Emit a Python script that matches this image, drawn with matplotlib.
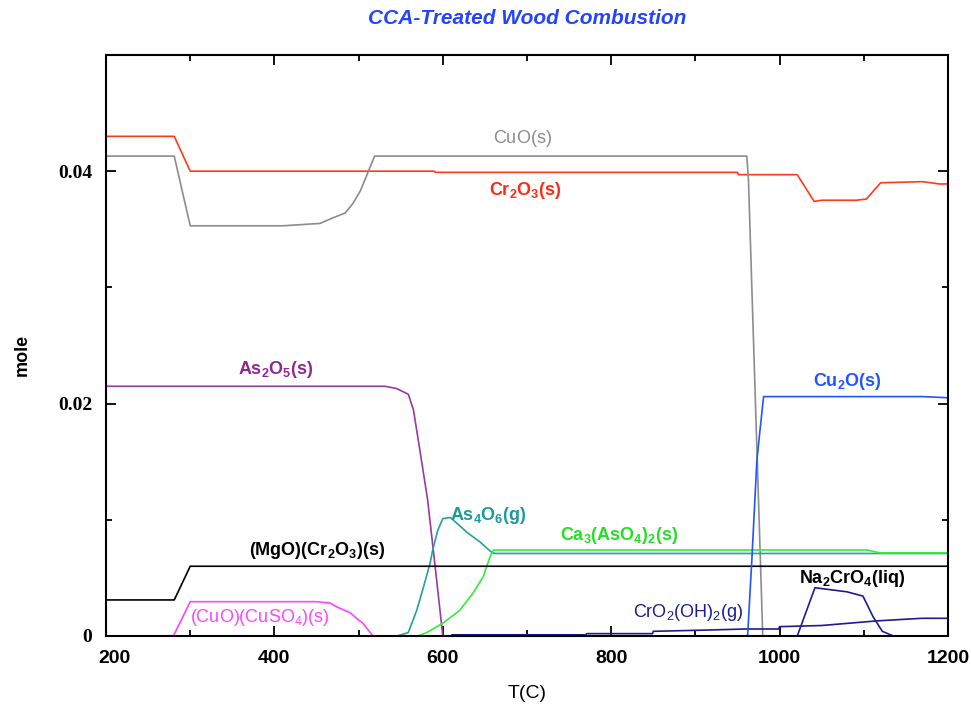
"""
CCA-treated wood combustion: equilibrium species vs temperature
"""

import matplotlib
matplotlib.use("Agg")
import matplotlib.pyplot as plt
import matplotlib.transforms as mtransforms
from matplotlib.ticker import MultipleLocator, FixedFormatter, FixedLocator

# --- data (T in C, amount in mole) ---
t_cr2o3 = [200, 281, 300, 590, 591, 950, 951, 1021, 1041, 1050, 1091, 1103, 1120, 1170, 1190, 1200]
y_cr2o3 = [0.0430, 0.0430, 0.0400, 0.0400, 0.0399, 0.0399, 0.0397, 0.0397, 0.0374, 0.0375,
           0.0375, 0.0376, 0.0390, 0.0391, 0.0389, 0.0389]

t_cuo = [200, 281, 300, 410, 442, 454, 470, 484, 493, 502, 510, 519, 961, 963, 980, 1200]
y_cuo = [0.0413, 0.0413, 0.0353, 0.0353, 0.03545, 0.0355, 0.0360, 0.0364, 0.0372, 0.0383,
         0.0397, 0.0413, 0.0413, 0.0393, 0.0, 0.0]

t_as2o5 = [200, 531, 545, 559, 565, 571, 582, 591, 600]
y_as2o5 = [0.02149, 0.02149, 0.0213, 0.0208, 0.0195, 0.0168, 0.0117, 0.0059, 0.0]

t_as4o6 = [546, 559, 569, 577, 585, 588, 594, 600, 609, 629, 644, 658, 662, 1200]
y_as4o6 = [0.0, 0.0003, 0.0022, 0.0042, 0.0063, 0.0074, 0.0091, 0.0101, 0.0102, 0.0089,
           0.0081, 0.0072, 0.0071, 0.0071]

t_ca3aso4 = [571, 581, 600, 620, 636, 648, 656, 660, 1104, 1119, 1200]
y_ca3aso4 = [0.0, 0.0003, 0.0011, 0.0022, 0.0037, 0.0051, 0.0068, 0.0074, 0.0074, 0.00715, 0.00715]

t_mgocr = [200, 281, 300, 1200]
y_mgocr = [0.0031, 0.0031, 0.0060, 0.0060]

t_cuso4 = [280, 300, 450, 466, 474, 490, 498, 505, 517]
y_cuso4 = [0.0, 0.00295, 0.00295, 0.00283, 0.0025, 0.0020, 0.0015, 0.0011, 0.0]

t_cro2oh = [611, 770, 771, 849, 850, 909, 960, 999, 1000, 1050, 1116, 1169, 1200]
y_cro2oh = [0.0001, 0.0001, 0.0002, 0.0002, 0.0004, 0.0005, 0.0006, 0.0006, 0.0008, 0.0009,
            0.0013, 0.00152, 0.00152]

t_na2cro4 = [1021, 1042, 1080, 1099, 1111, 1122, 1135]
y_na2cro4 = [0.0, 0.00415, 0.0038, 0.00343, 0.00166, 0.0004, 0.0]

t_cu2o = [962, 967, 973, 977, 981, 1170, 1200]
y_cu2o = [0.0, 0.0065, 0.0151, 0.0179, 0.0206, 0.0206, 0.0205]

x_ticks = [200, 400, 600, 800, 1000, 1200]
y_ticks = [0, 0.02, 0.04]
y_tick_labels = ["0", "0.02", "0.04"]


def plot_species(outfile):
    plt.rcParams["mathtext.fontset"] = "custom"
    plt.rcParams["mathtext.rm"] = "Liberation Sans"
    plt.rcParams["mathtext.bf"] = "Liberation Sans:bold"
    plt.rcParams["mathtext.it"] = "Liberation Sans:italic"
    plt.rcParams["font.family"] = ["Liberation Sans", "DejaVu Sans"]

    fig = plt.figure(figsize=(9.71, 7.06), dpi=100)
    ax = fig.add_axes([0.1092, 0.0992, 0.8671, 0.8229])

    lw = 1.2
    ax.plot(t_cr2o3, y_cr2o3, color="#ff3a1a", lw=lw)
    ax.plot(t_cuo, y_cuo, color="#8c8c8c", lw=lw)
    ax.plot(t_as2o5, y_as2o5, color="#9c38a0", lw=lw)
    ax.plot(t_as4o6, y_as4o6, color="#24a0a0", lw=lw)
    ax.plot(t_ca3aso4, y_ca3aso4, color="#33ee33", lw=lw)
    ax.plot(t_mgocr, y_mgocr, color="black", lw=lw)
    ax.plot(t_cuso4, y_cuso4, color="#ff44ff", lw=lw)
    ax.plot(t_cro2oh, y_cro2oh, color="#1c1c8c", lw=lw)
    ax.plot(t_na2cro4, y_na2cro4, color="#1c1c8c", lw=lw)
    ax.plot(t_cu2o, y_cu2o, color="#2255ff", lw=lw)

    fs = 13
    ax.text(694, 0.0428, r"$\mathrm{CuO(s)}$", color="#8c8c8c", fontsize=fs, ha="center", va="center")
    ax.text(698, 0.0383, r"$\mathbf{Cr_2O_3(s)}$", color="#ff2a10", fontsize=fs, ha="center", va="center")
    ax.text(401, 0.0229, r"$\mathbf{As_2O_5(s)}$", color="#8c2890", fontsize=fs, ha="center", va="center")
    ax.text(451, 0.00738, r"$\mathbf{(MgO)(Cr_2O_3)(s)}$", color="black", fontsize=fs, ha="center", va="center")
    ax.text(383, 0.00163, r"$\mathrm{(CuO)(CuSO_4)(s)}$", color="#ff44ff", fontsize=fs, ha="center", va="center")
    ax.text(654, 0.01039, r"$\mathbf{As_4O_6(g)}$", color="#1a9a9a", fontsize=fs, ha="center", va="center")
    ax.text(809, 0.00867, r"$\mathbf{Ca_3(AsO_4)_2(s)}$", color="#22e022", fontsize=fs, ha="center", va="center")
    ax.text(891, 0.00206, r"$\mathrm{CrO_2(OH)_2(g)}$", color="#1c1c8c", fontsize=fs, ha="center", va="center")
    ax.text(1086, 0.00498, r"$\mathbf{Na_2CrO_4(liq)}$", color="black", fontsize=fs, ha="center", va="center")
    ax.text(1081, 0.02189, r"$\mathbf{Cu_2O(s)}$", color="#2255ff", fontsize=fs, ha="center", va="center")

    ax.set_xlim(200, 1200)
    ax.set_ylim(0, 0.05)
    ax.xaxis.set_major_locator(FixedLocator(x_ticks))
    ax.xaxis.set_minor_locator(MultipleLocator(100))
    ax.yaxis.set_major_locator(FixedLocator(y_ticks))
    ax.yaxis.set_major_formatter(FixedFormatter(y_tick_labels))
    ax.yaxis.set_minor_locator(MultipleLocator(0.01))

    ax.tick_params(which="both", direction="in", top=True, right=True, width=1.3)
    ax.tick_params(which="major", length=7)
    ax.tick_params(which="minor", length=4)
    ax.tick_params(axis="x", pad=10)
    ax.tick_params(axis="y", pad=10)
    for lab in ax.get_xticklabels():
        lab.set_fontsize(14)
        lab.set_fontweight("bold")
    # first x label sits a little right of its tick in the original
    first = ax.get_xticklabels()[0]
    first.set_transform(first.get_transform() +
                        mtransforms.ScaledTranslation(8 / 100, 0, fig.dpi_scale_trans))
    for lab in ax.get_yticklabels():
        lab.set_fontsize(14)
        lab.set_fontweight("bold")
        lab.set_family("Liberation Serif")
    for sp in ax.spines.values():
        sp.set_linewidth(1.5)

    ax.set_xlabel("T(C)", fontsize=14, labelpad=13)
    ax.set_ylabel("mole", fontsize=13, fontweight="bold")
    ax.yaxis.set_label_coords(-0.09, 0.484)
    fig.text(0.5427, 0.9745, "CCA-Treated Wood Combustion", color="#2244ff", fontsize=15,
             fontweight="bold", fontstyle="italic", ha="center", va="center")

    fig.savefig(outfile, dpi=100)


if __name__ == "__main__":
    plot_species("out.png")
